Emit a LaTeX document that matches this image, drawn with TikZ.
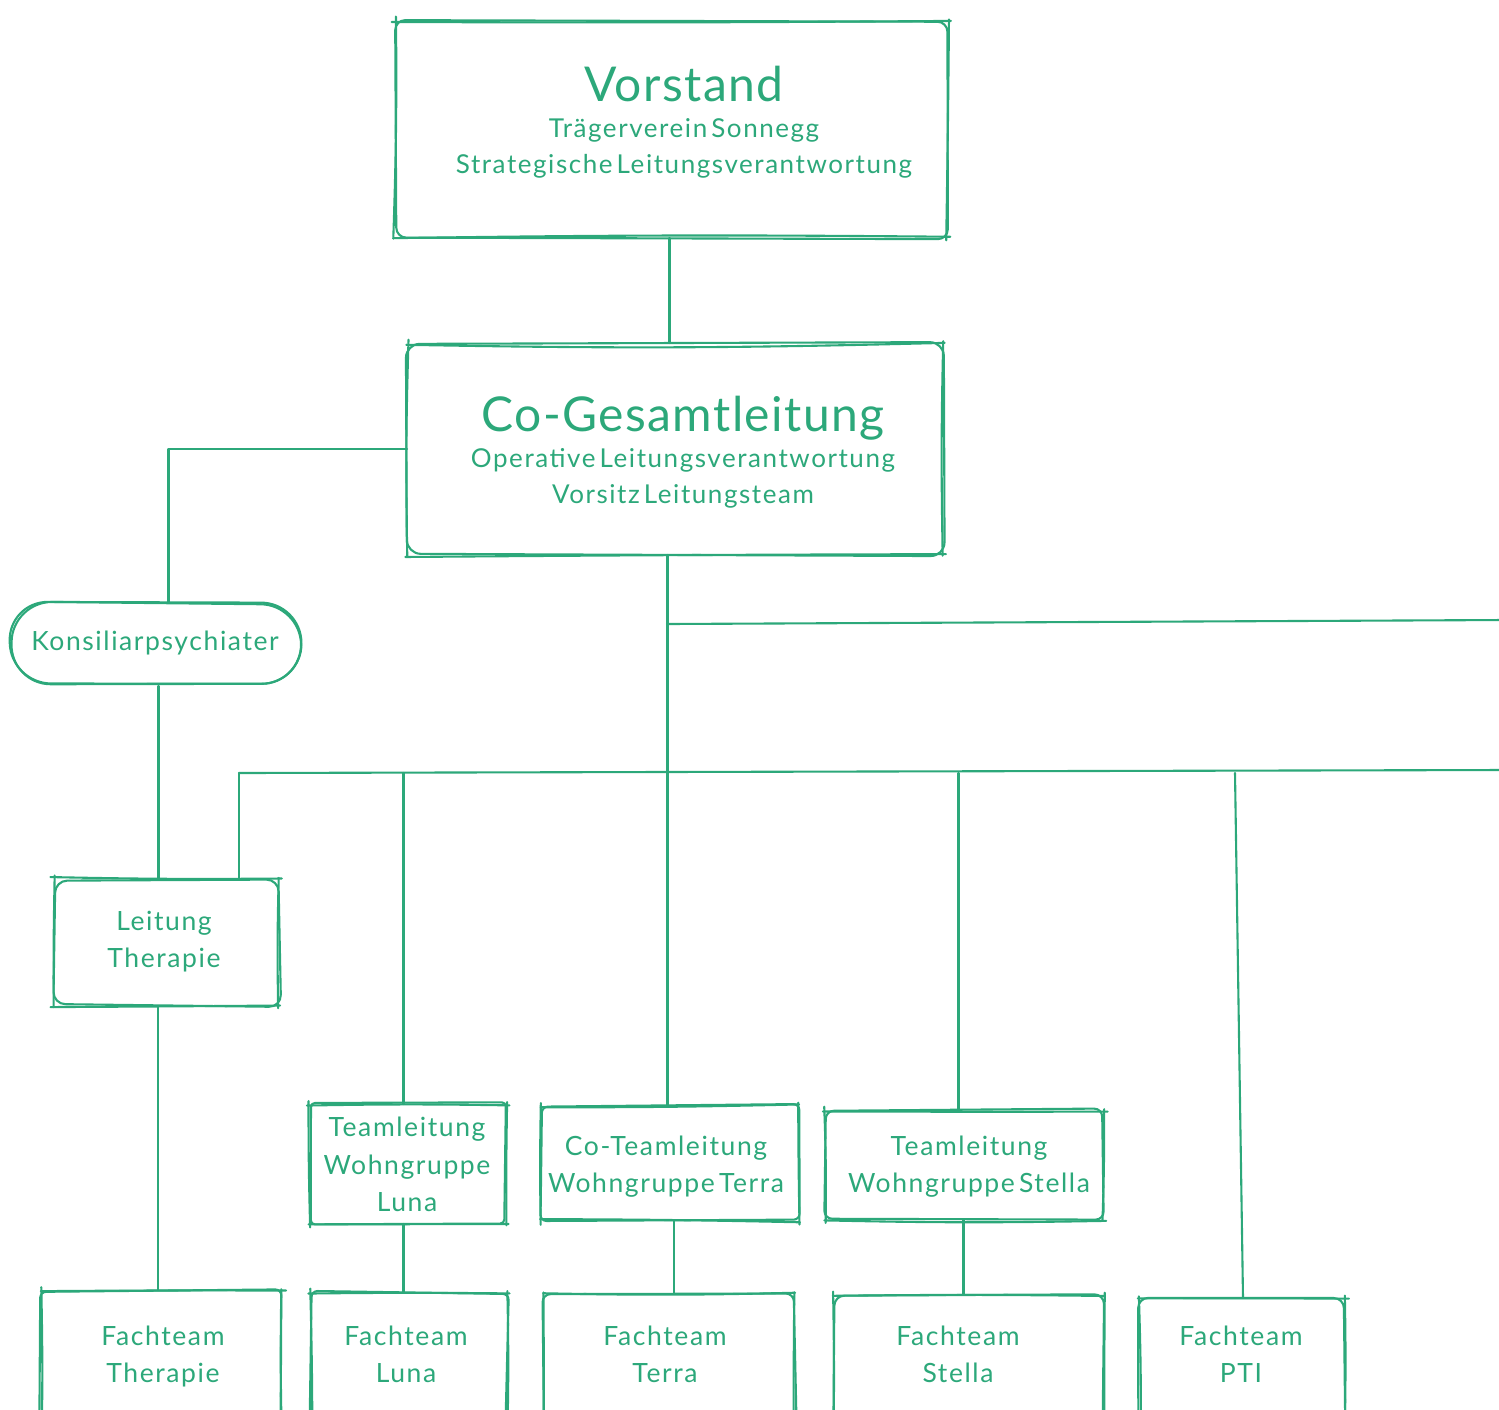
\documentclass[tikz,border=0pt]{standalone}
\usepackage{fontspec}
\setmainfont{Lato}
\newfontfamily\titlefont[LetterSpace=3]{Lato}
\newfontfamily\labelfont[LetterSpace=6, WordSpace=0.5]{Lato}
\definecolor{ink}{HTML}{2CA87A}

% invisible frame node spanning (x1,y1)-(x2,y2)
\newcommand\mkframe[5]{%
  \node[frame, minimum width={(#4-#2)*1pt}, minimum height={(#5-#3)*1pt}] (#1) at ({(#2+#4)/2},{(#3+#5)/2}) {};}

% hand-drawn outline of a frame node: one rounded loop plus four slightly bowed strokes
\newcommand\roughrect[2]{%
  \draw[ink, rounded corners=#2]
    ([shift={(2*rand,2*rand)}]#1.north west) -- ([shift={(2*rand,2*rand)}]#1.north east) --
    ([shift={(2*rand,2*rand)}]#1.south east) -- ([shift={(2*rand,2*rand)}]#1.south west) -- cycle;
  \pgfmathsetmacro\bendA{1.5*rand}\pgfmathsetmacro\bendB{1.5*rand}%
  \pgfmathsetmacro\bendC{1.5*rand}\pgfmathsetmacro\bendD{1.5*rand}%
  \draw[ink] ([shift={(-2+2*rand,2*rand)}]#1.north west) to[bend left=\bendA] ([shift={(2+2*rand,2*rand)}]#1.north east);
  \draw[ink] ([shift={(2*rand,-2+2*rand)}]#1.north east) to[bend left=\bendB] ([shift={(2*rand,2+2*rand)}]#1.south east);
  \draw[ink] ([shift={(2+2*rand,2*rand)}]#1.south east) to[bend left=\bendC] ([shift={(-2+2*rand,2*rand)}]#1.south west);
  \draw[ink] ([shift={(2*rand,2+2*rand)}]#1.south west) to[bend left=\bendD] ([shift={(2*rand,-2+2*rand)}]#1.north west);
}

% hand-drawn pill outline
\newcommand\roughpill[1]{%
  \foreach \pass in {1,2}{%
    \draw[ink, rounded corners=40]
      ([shift={(3*rand,3*rand)}]#1.north west) -- ([shift={(3*rand,3*rand)}]#1.north east) --
      ([shift={(3*rand,3*rand)}]#1.south east) -- ([shift={(3*rand,3*rand)}]#1.south west) -- cycle;
  }}

\begin{document}
\begin{tikzpicture}[x=1pt,y=-1pt,
  ink/.style={draw=ink, line width=2.1pt, line cap=round, line join=round},
  frame/.style={draw=none, rectangle, inner sep=0pt, outer sep=0pt},
  big/.style={text=ink, font=\titlefont\fontsize{48}{48}\selectfont, anchor=base, inner sep=0pt},
  sub/.style={text=ink, font=\labelfont\fontsize{26}{26}\selectfont, anchor=base, inner sep=0pt},
  lbl/.style={text=ink, font=\labelfont\fontsize{26.5}{26.5}\selectfont, anchor=base, inner sep=0pt},
]
\pgfmathsetseed{42}
\useasboundingbox (0,0) rectangle (1499,1409);
\clip (0,0) rectangle (1499,1409);

% frames
\mkframe{vor}{395}{20}{948}{238}
\mkframe{cog}{407}{343}{944}{555}
\mkframe{kons}{11}{602}{300}{686}
\mkframe{lt}{54}{879}{280}{1006}
\mkframe{tlL}{309}{1104}{506}{1224}
\mkframe{tlT}{541}{1106}{799}{1221}
\mkframe{tlS}{825}{1110}{1104}{1220}
\mkframe{ftT}{41}{1290}{282}{1440}
\mkframe{ftL}{311}{1292}{507}{1440}
\mkframe{ftR}{544}{1294}{795}{1440}
\mkframe{ftS}{833}{1294}{1104}{1440}
\mkframe{ftP}{1139}{1298}{1345}{1440}

% outlines
\roughrect{vor}{10}
\roughrect{cog}{14}
\roughpill{kons}
\roughrect{lt}{12}
\roughrect{tlL}{4}
\roughrect{tlT}{6}
\roughrect{tlS}{8}
\roughrect{ftT}{6}
\roughrect{ftL}{6}
\roughrect{ftR}{8}
\roughrect{ftS}{10}
\roughrect{ftP}{10}

% bus lines
\coordinate (busA) at (667,624);
\coordinate (busAend) at (1505,620);
\coordinate (busB) at (239,773);
\coordinate (busBend) at (1505,770);

% connectors
\draw[ink] ([xshift=-2]vor.south) -- ([xshift=-2]vor.south |- cog.north);
\draw[ink] (cog.west) -| ([xshift=13]kons.north);
\draw[ink] ([xshift=3]kons.south) -- ([xshift=3]kons.south |- lt.north);
\draw[ink] ([xshift=-9]lt.south) -- ([xshift=-9]lt.south |- ftT.north);
\draw[ink] ([xshift=-8]cog.south) -- ([xshift=-8]cog.south |- tlT.north);
\draw[ink] (busA) -- (busAend);
\draw[ink] (busB) -- (busBend);
\draw[ink] (busB) -- (busB |- lt.north);
\draw[ink] ([xshift=-4]tlL.north |- busB) -- ([xshift=-4]tlL.north);
\draw[ink] ([xshift=-6]tlS.north |- busB) -- ([xshift=-6]tlS.north);
\draw[ink] ([xshift=-7]ftP.north |- busB) -- ([xshift=1]ftP.north);
\draw[ink] ([xshift=-4]tlL.south) -- ([xshift=-4]tlL.south |- ftL.north);
\draw[ink] ([xshift=4]tlT.south) -- ([xshift=4]tlT.south |- ftR.north);
\draw[ink] ([xshift=-1]tlS.south) -- ([xshift=-1]tlS.south |- ftS.north);

% texts
\node[big] (vorT) at (684,101) {Vorstand};
\node[sub] (vorA) at (684,137) {Trägerverein Sonnegg};
\node[sub] (vorB) at (684,173) {Strategische Leitungsverantwortung};
\node[big] (cogT) at (683,431) {Co-Gesamtleitung};
\node[sub] (cogA) at (683,467) {Operative Leitungsverantwortung};
\node[sub] (cogB) at (683,503) {Vorsitz Leitungsteam};
\node[lbl] (konsT) at (155,650) {Konsiliarpsychiater};
\node[lbl] (ltA) at (164,930) {Leitung};
\node[lbl] (ltB) at (164,967) {Therapie};
\node[lbl] (tlLA) at (407,1136) {Teamleitung};
\node[lbl] (tlLB) at (407,1174) {Wohngruppe};
\node[lbl] (tlLC) at (407,1211) {Luna};
\node[lbl] (tlTA) at (666,1155) {Co-Teamleitung};
\node[lbl] (tlTB) at (666,1192) {Wohngruppe Terra};
\node[lbl] (tlSA) at (969,1155) {Teamleitung};
\node[lbl] (tlSB) at (969,1192) {Wohngruppe Stella};
\node[lbl] (ftTA) at (163,1345) {Fachteam};
\node[lbl] (ftTB) at (163,1382) {Therapie};
\node[lbl] (ftLA) at (406,1345) {Fachteam};
\node[lbl] (ftLB) at (406,1382) {Luna};
\node[lbl] (ftRA) at (665,1345) {Fachteam};
\node[lbl] (ftRB) at (665,1382) {Terra};
\node[lbl] (ftSA) at (958,1345) {Fachteam};
\node[lbl] (ftSB) at (958,1382) {Stella};
\node[lbl] (ftPA) at (1241,1345) {Fachteam};
\node[lbl] (ftPB) at (1241,1382) {PTI};
\end{tikzpicture}
\end{document}
